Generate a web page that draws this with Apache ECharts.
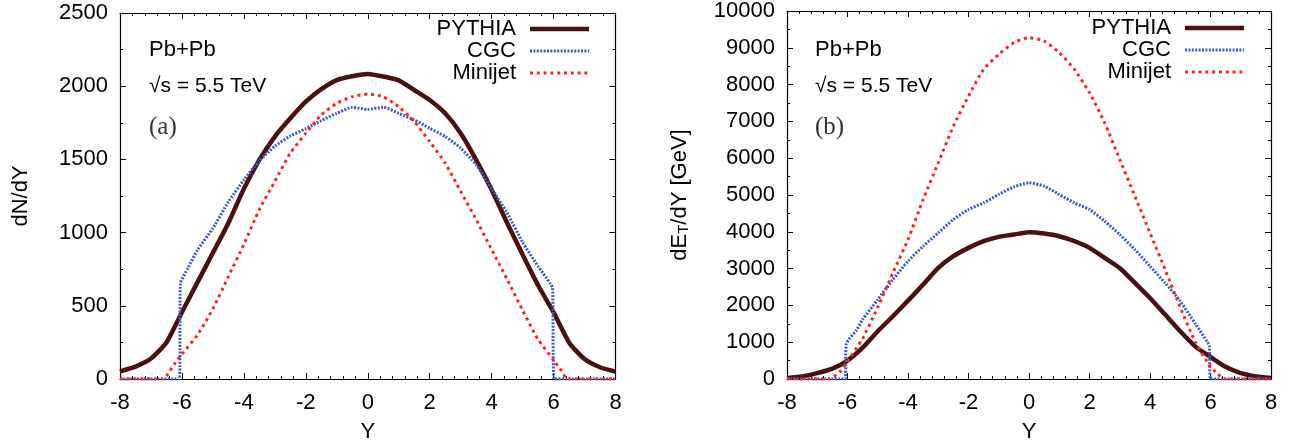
<!DOCTYPE html>
<html>
<head>
<meta charset="utf-8">
<script src="https://cdn.jsdelivr.net/npm/echarts@6/dist/echarts.min.js"></script>
<style>
html,body{margin:0;padding:0;background:#fff;}
#c{width:1298px;height:448px;}
</style>
</head>
<body>
<div id="c"></div>
<script>
// ---------- data ----------
const rapidity = [-8,-7.5,-7,-6.5,-6,-5.5,-5,-4.5,-4,-3.5,-3,-2.5,-2,-1.5,-1,-0.5,0,0.5,1,1.5,2,2.5,3,3.5,4,4.5,5,5.5,6,6.5,7,7.5,8];

// panel (a) dN/dY
const pythiaN = [52,85,140,250,456,660,862,1066,1300,1497,1656,1781,1894,1980,2042,2068,2083,2066,2040,1974,1906,1815,1679,1497,1293,1066,850,640,456,250,136,80,50];

const cgcNX = [-8,-6.08,-6.05,-5.8,-5.5,-5,-4.5,-4,-3.5,-3,-2.5,-2,-1.5,-1,-0.5,0,0.5,1,1.5,2,2.5,3,3.5,4,4.5,5,5.5,5.9,5.97,6.02,8];
const cgcN  = [0,0,650,760,880,1030,1210,1360,1490,1590,1660,1710,1765,1815,1856,1842,1856,1815,1770,1713,1656,1577,1463,1300,1134,935,770,650,620,0,0];

const minijetNX = [-8,-6.6,-6.5,-6.25,-6,-5.5,-5,-4.5,-4,-3.5,-3,-2.5,-2,-1.5,-1,-0.5,0,0.5,1,1.5,2,2.5,3,3.5,4,4.5,5,5.5,6,6.25,6.4,6.5,8];
const minijetN  = [0,0,20,100,170,300,480,700,920,1157,1350,1543,1679,1804,1883,1928,1946,1928,1860,1758,1622,1475,1282,1089,885,681,470,270,130,57,5,0,0];

// panel (b) dE_T/dY [GeV]
const pythiaE = [30,72,160,280,500,850,1296,1704,2130,2566,3019,3336,3563,3744,3862,3926,3989,3953,3880,3744,3563,3291,3019,2611,2203,1750,1296,880,600,330,160,72,30];

const cgcEX = [-8,-6.08,-6.04,-5.7,-5.5,-5,-4.5,-4,-3.5,-3,-2.5,-2,-1.5,-1,-0.5,0,0.5,1,1.5,2,2.5,3,3.5,4,4.5,5,5.5,5.9,5.96,6.0,8];
const cgcE  = [0,0,950,1330,1614,2158,2702,3200,3608,3971,4334,4606,4787,5014,5222,5331,5240,5014,4787,4606,4288,3926,3518,3064,2611,2112,1500,1000,900,0,0];

const minijetEX = [-8,-6.6,-6.5,-6.25,-6,-5.5,-5,-4.5,-4,-3.5,-3,-2.5,-2,-1.5,-1,-0.5,0,0.5,1,1.5,2,2.5,3,3.5,4,4.5,5,5.5,6,6.25,6.4,6.5,8];
const minijetE  = [0,0,40,200,480,1100,1950,2883,3790,4878,5875,6872,7688,8413,8821,9139,9275,9184,8867,8413,7779,6963,5966,4968,3971,2974,1950,1000,330,130,20,0,0];

const xTicksMin = -8, xTicksMax = 8, xStep = 2;
const seriesNames = ['PYTHIA','CGC','Minijet'];

// ---------- chart ----------
const FONT = "'Liberation Sans', Arial, Helvetica, sans-serif";
const SERIF = "'Liberation Serif', 'Times New Roman', serif";
const zip = (xs, ys) => xs.map((x, i) => [x, ys[i]]);

const COL = { pythia: '#4a1010', cgc: '#3b5fbf', mini: '#ff2424' };
const styles = [
  { color: COL.pythia, width: 4.5, type: 'solid' },
  { color: COL.cgc, width: 3, type: [2, 1.4] },
  { color: COL.mini, width: 3, type: [3, 3.8] }
];

function xAx(grid, top) {
  return {
    gridIndex: grid, type: 'value', min: xTicksMin, max: xTicksMax, interval: xStep,
    position: top ? 'top' : 'bottom',
    axisLine: { show: true, onZero: false, lineStyle: { color: '#000', width: 1.2 } },
    axisTick: { show: true, inside: true, length: 6, lineStyle: { color: '#000', width: 1 } },
    minorTick: { show: true, splitNumber: 5, length: 3, lineStyle: { color: '#000', width: 1 } },
    splitLine: { show: false },
    axisLabel: { show: !top, color: '#000', fontSize: 22, fontFamily: FONT, margin: 13 },
    name: top ? '' : 'Y', nameLocation: 'middle', nameGap: 42,
    nameTextStyle: { color: '#000', fontSize: 22, fontFamily: FONT }
  };
}
function yAx(grid, right, max, interval, name, gap, rich) {
  return {
    gridIndex: grid, type: 'value', min: 0, max: max, interval: interval,
    position: right ? 'right' : 'left',
    axisLine: { show: true, onZero: false, lineStyle: { color: '#000', width: 1.2 } },
    axisTick: { show: true, inside: true, length: 6, lineStyle: { color: '#000', width: 1 } },
    minorTick: { show: true, splitNumber: 2, length: 3, lineStyle: { color: '#000', width: 1 } },
    splitLine: { show: false },
    axisLabel: { show: !right, color: '#000', fontSize: 22, fontFamily: FONT, margin: 12, formatter: v => String(v) },
    name: right ? '' : name, nameLocation: 'middle', nameGap: gap, nameRotate: 90,
    nameTextStyle: { color: '#000', fontSize: 22, fontFamily: FONT, rich: rich || {} }
  };
}

const panels = [
  { grid: 0, data: [zip(rapidity, pythiaN), zip(cgcNX, cgcN), zip(minijetNX, minijetN)] },
  { grid: 1, data: [zip(rapidity, pythiaE), zip(cgcEX, cgcE), zip(minijetEX, minijetE)] }
];

const series = [];
panels.forEach(p => {
  p.data.forEach((d, k) => {
    series.push({
      type: 'line', name: seriesNames[k], xAxisIndex: p.grid * 2, yAxisIndex: p.grid * 2,
      data: d, showSymbol: false, symbol: 'none', smooth: 0.2, clip: true,
      lineStyle: styles[k], itemStyle: { color: styles[k].color }, z: 2 + k,
      animation: false
    });
  });
});

function legendGraphics(textRight, x1, x2, ys) {
  const out = [];
  seriesNames.forEach((n, k) => {
    out.push({ type: 'text', style: { text: n, x: textRight, y: ys[k], textAlign: 'right', textVerticalAlign: 'middle', font: '22px ' + FONT, fill: '#000' } });
    out.push({ type: 'line', shape: { x1: x1, y1: ys[k], x2: x2, y2: ys[k] }, style: { stroke: styles[k].color, lineWidth: styles[k].width, lineDash: styles[k].type === 'solid' ? null : styles[k].type } });
  });
  return out;
}
function labelGraphics(x, tag) {
  return [
    { type: 'text', style: { text: 'Pb+Pb', x: x, y: 50, textVerticalAlign: 'middle', font: '22px ' + FONT, fill: '#000' } },
    { type: 'text', style: { text: '\u221As = 5.5 TeV', x: x, y: 86, textVerticalAlign: 'middle', font: '21px ' + FONT, fill: '#000' } },
    { type: 'text', style: { text: tag, x: x, y: 127, textVerticalAlign: 'middle', font: '25px ' + SERIF, fill: '#333' } }
  ];
}

const option = {
  animation: false,
  backgroundColor: '#fff',
  grid: [
    { left: 120, top: 13, width: 495.5, height: 367 },
    { left: 787, top: 11, width: 484, height: 368 }
  ],
  xAxis: [xAx(0, false), xAx(0, true), xAx(1, false), xAx(1, true)],
  yAxis: [
    yAx(0, false, 2500, 500, 'dN/dY', 88),
    yAx(0, true, 2500, 500),
    yAx(1, false, 10000, 1000, 'dE{sub|T}/dY [GeV]', 96, { sub: { fontSize: 15, fontFamily: FONT, color: '#000', verticalAlign: 'bottom' } }),
    yAx(1, true, 10000, 1000)
  ],
  series: series,
  graphic: [].concat(
    legendGraphics(516, 530, 589, [29, 51, 73]),
    legendGraphics(1171, 1185, 1244, [28, 50, 72]),
    labelGraphics(149, '(a)'),
    labelGraphics(815, '(b)')
  )
};

const chart = echarts.init(document.getElementById('c'), null, { renderer: 'canvas' });
chart.setOption(option);
</script>
</body>
</html>
